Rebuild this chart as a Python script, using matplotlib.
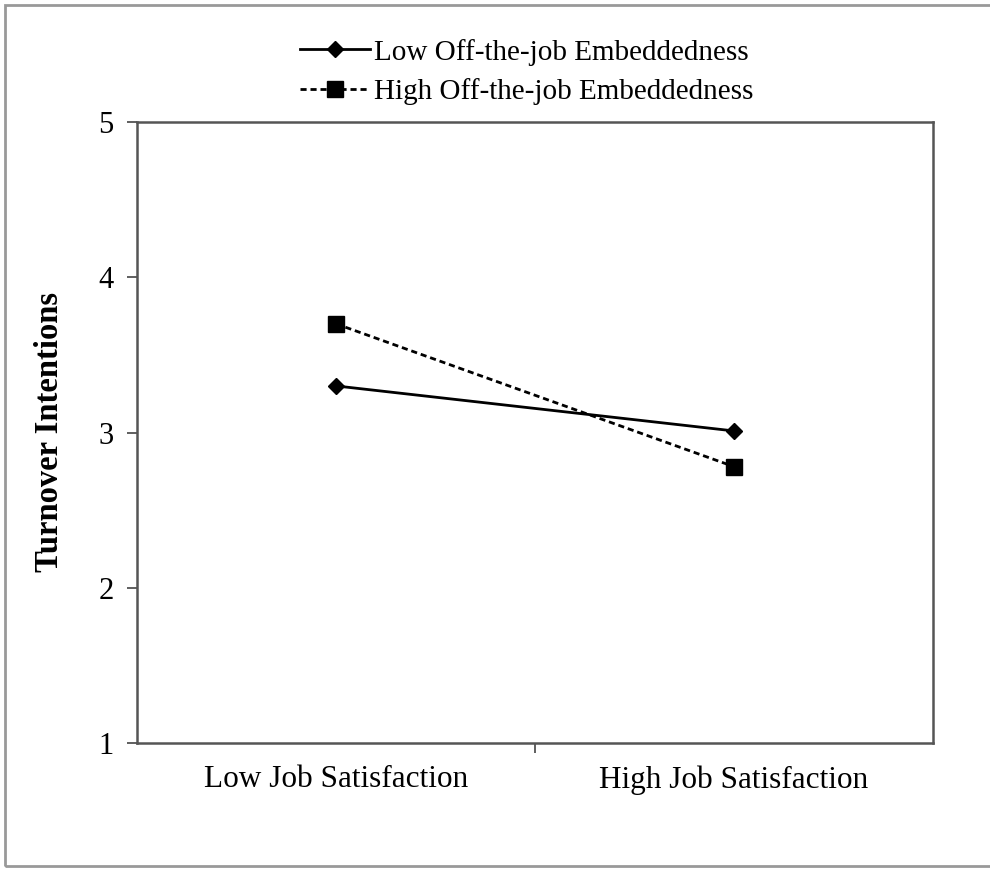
import matplotlib
matplotlib.use("Agg")
import matplotlib.pyplot as plt
from matplotlib.patches import Rectangle

categories = ["Low Job Satisfaction", "High Job Satisfaction"]
low_embed = [3.30, 3.01]
high_embed = [3.70, 2.78]
series_labels = ["Low Off-the-job Embeddedness", "High Off-the-job Embeddedness"]
y_ticks = [1, 2, 3, 4, 5]

plt.rcParams['font.family'] = ['Liberation Serif', 'DejaVu Serif']

fig = plt.figure(figsize=(9.90, 8.69), dpi=100)
ax = fig.add_axes([137/990, 1-743/869, (933-137)/990, (743-122)/869])

xpos = [0.5, 1.5]
ax.plot(xpos, low_embed, color='black', linestyle='-', linewidth=2,
        marker='D', markersize=8, label=series_labels[0])
ax.plot(xpos, high_embed, color='black', linestyle=(0, (2.2, 1.4)), linewidth=2,
        marker='s', markersize=11, label=series_labels[1])

ax.set_xlim(0, 2)
ax.set_ylim(1, 5)
ax.set_yticks(y_ticks)
ax.set_xticks([1])
ax.set_xticklabels([])
ax.set_xticks(xpos, minor=True)
ax.set_xticklabels(categories, minor=True)
ax.tick_params(axis='x', which='minor', length=0, pad=16, labelsize=22.5)
ax.tick_params(axis='x', which='major', length=7, width=1.2, color='#444444')
ax.tick_params(axis='y', length=7, width=1.2, color='#444444', labelsize=22, pad=10)

for s in ax.spines.values():
    s.set_color('#555555')
    s.set_linewidth(1.8)

ax.set_ylabel("Turnover Intentions", fontsize=23.5, fontweight='bold', labelpad=24)

leg = fig.legend(loc='upper center', bbox_to_anchor=(527/990, 1-27/869), frameon=False,
                 fontsize=21, handlelength=2.4, handletextpad=0.15, labelspacing=0.42,
                 borderaxespad=0)

fig.patches.append(Rectangle((5/990, 3/869), 1.2, 1-8/869, transform=fig.transFigure,
                             fill=False, edgecolor='#999999', linewidth=2))

fig.savefig("out.png", dpi=100)
